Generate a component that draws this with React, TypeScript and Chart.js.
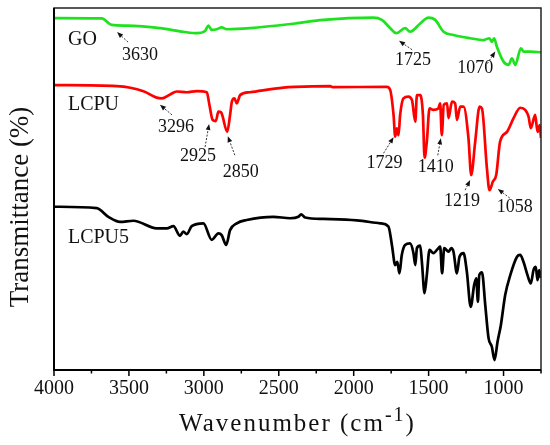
import { useEffect, useRef } from "react";
import Chart from "chart.js/auto";

// FTIR spectra, wavenumber in cm-1 (descending) and offset transmittance (arbitrary %)
const goWavenumber = [4000, 3681, 3615, 3515, 3293, 3137, 3047, 2992, 2970, 2947, 2914, 2881, 2846, 2692, 2391, 2202, 1868, 1812, 1756, 1716, 1657, 1624, 1556, 1501, 1456, 1400, 1334, 1223, 1133, 1094, 1078, 1063, 1045, 1000, 966, 944, 922, 884, 867, 822, 750];
const goSignal = [97.2, 97.1, 95.3, 95.1, 94.4, 93.4, 93.0, 93.6, 95.1, 93.9, 94.1, 94.6, 94.1, 94.4, 95.7, 96.7, 97.3, 96.7, 94.4, 93.0, 94.4, 93.4, 95.7, 97.3, 96.7, 93.4, 92.5, 91.6, 91.1, 91.6, 90.6, 91.6, 89.3, 85.1, 84.2, 86.0, 84.2, 88.8, 87.9, 87.9, 87.7];

const lcpuWavenumber = [4000, 3581, 3403, 3315, 3281, 3225, 3181, 3114, 3047, 2980, 2963, 2941, 2920, 2903, 2885, 2844, 2825, 2813, 2796, 2780, 2758, 2692, 2469, 2391, 2157, 2141, 1779, 1756, 1734, 1723, 1712, 1701, 1690, 1668, 1635, 1611, 1589, 1578, 1556, 1538, 1527, 1512, 1494, 1468, 1435, 1423, 1412, 1399, 1377, 1367, 1344, 1323, 1311, 1289, 1267, 1234, 1216, 1189, 1160, 1144, 1111, 1094, 1071, 1049, 1023, 977, 933, 889, 855, 833, 818, 789, 773, 759, 750];
const lcpuSignal = [78.6, 78.3, 76.9, 75.1, 74.9, 76.0, 76.8, 76.6, 76.9, 76.6, 73.1, 68.9, 68.6, 71.2, 71.0, 65.6, 70.3, 74.0, 74.9, 73.5, 75.8, 76.6, 77.9, 78.1, 78.3, 78.0, 78.1, 77.2, 70.3, 64.3, 66.6, 64.7, 70.3, 74.9, 75.4, 74.4, 68.4, 75.8, 75.8, 70.3, 58.4, 62.9, 72.1, 71.7, 72.1, 73.5, 64.7, 73.1, 73.5, 69.4, 74.0, 73.5, 68.9, 72.6, 72.6, 63.8, 53.6, 62.9, 72.6, 72.1, 55.5, 49.4, 51.8, 53.6, 62.9, 65.6, 69.4, 72.3, 71.7, 69.8, 66.6, 70.3, 65.6, 67.5, 63.9];

const lcpu5Wavenumber = [4000, 3715, 3637, 3559, 3470, 3315, 3247, 3203, 3159, 3137, 3114, 3081, 3003, 2947, 2903, 2881, 2851, 2825, 2780, 2714, 2536, 2424, 2369, 2351, 2324, 2202, 1979, 1824, 1768, 1745, 1723, 1709, 1695, 1679, 1657, 1624, 1601, 1589, 1578, 1556, 1545, 1527, 1512, 1494, 1468, 1435, 1423, 1410, 1396, 1367, 1349, 1334, 1311, 1294, 1267, 1245, 1219, 1196, 1182, 1171, 1162, 1144, 1122, 1100, 1078, 1060, 1040, 1018, 989, 955, 910, 889, 867, 840, 818, 800, 785, 773, 762, 750];
const lcpu5Signal = [44.8, 44.4, 42.0, 40.6, 40.9, 38.8, 38.8, 39.4, 36.7, 37.9, 37.2, 39.4, 40.2, 35.6, 37.4, 36.9, 34.2, 38.3, 40.2, 41.1, 42.0, 41.6, 42.0, 42.7, 41.8, 41.4, 41.0, 40.2, 39.3, 34.2, 28.6, 29.5, 26.3, 31.4, 34.2, 34.6, 31.9, 28.6, 33.3, 34.0, 29.5, 20.8, 25.8, 32.8, 31.9, 33.3, 33.7, 26.3, 33.3, 32.3, 33.3, 32.3, 26.3, 30.9, 31.9, 26.8, 17.0, 23.1, 24.9, 18.4, 25.8, 26.6, 17.5, 8.3, 5.9, 2.2, 7.3, 11.9, 20.3, 25.8, 30.9, 31.4, 29.5, 25.8, 23.5, 27.2, 28.1, 24.4, 27.2, 25.0];

const seriesNames = ["GO", "LCPU", "LCPU5"];

// marked bands: label text, and where its arrow points (wavenumber, signal)
const peakLabels = ["3630", "3296", "2925", "2850", "1725", "1070", "1729", "1410", "1219", "1058"];
const peakWavenumber = [3579, 3293, 2965, 2840, 1697, 1055, 1734, 1419, 1223, 1038];
const peakSignal = [93.3, 73.1, 67.8, 64.4, 90.9, 87.9, 64.1, 63.8, 52.2, 49.7];

const SERIF = '"Liberation Serif", "Times New Roman", serif';
const GREEN = "rgb(30, 226, 30)";
const RED = "rgb(255, 0, 0)";
const BLACK = "rgb(0, 0, 0)";

// layout of the annotations, in px relative to the arrow tip
const arrowTail = [[11, 10], [12, 10], [-4, 23], [7, 19], [13, 9], [-8, 12], [-10, 16], [-3, 17], [-5, 10], [12, 9]];
const labelShift = [[23, 23], [16, 22], [-11, 32], [13, 36], [14, 20], [-20, 17], [-9, 26], [-5, 29], [-8, 21], [17, 18]];
const nameAt = { wn: 3907, signal: [91.1, 73.1, 36.1] };

const toPoints = (xs: number[], ys: number[]) => xs.map((x, i) => ({ x, y: ys[i] }));

const decorations = {
  id: "decorations",
  afterDraw(chart: any) {
    const { ctx, chartArea: a, scales } = chart;
    const sx = scales.x;
    const sy = scales.y;
    ctx.save();

    // tick marks, major every 500, minor every 250
    ctx.strokeStyle = "#000";
    ctx.lineWidth = 1.5;
    sx.ticks.forEach((t: any) => {
      const px = sx.getPixelForValue(t.value);
      const len = t.value % 500 === 0 ? 6 : 3.5;
      ctx.beginPath();
      ctx.moveTo(px, a.bottom);
      ctx.lineTo(px, a.bottom + len);
      ctx.stroke();
    });

    // frame
    ctx.strokeStyle = "#222";
    ctx.lineWidth = 1.5;
    ctx.strokeRect(a.left, a.top, a.right - a.left, a.bottom - a.top);
    ctx.strokeStyle = "#000";
    ctx.lineWidth = 2;
    ctx.beginPath();
    ctx.moveTo(a.left, a.top);
    ctx.lineTo(a.left, a.bottom);
    ctx.lineTo(a.right, a.bottom);
    ctx.stroke();

    // arrows + band labels
    ctx.fillStyle = "#111";
    peakLabels.forEach((label, i) => {
      const tx = sx.getPixelForValue(peakWavenumber[i]);
      const ty = sy.getPixelForValue(peakSignal[i]);
      const fx = tx + arrowTail[i][0];
      const fy = ty + arrowTail[i][1];
      const ang = Math.atan2(ty - fy, tx - fx);
      const head = 6;
      const bx = tx - head * Math.cos(ang);
      const by = ty - head * Math.sin(ang);
      ctx.setLineDash([2, 1.5]);
      ctx.lineWidth = 1;
      ctx.strokeStyle = "#333";
      ctx.beginPath();
      ctx.moveTo(fx, fy);
      ctx.lineTo(bx, by);
      ctx.stroke();
      ctx.setLineDash([]);
      ctx.beginPath();
      ctx.moveTo(tx, ty);
      ctx.lineTo(bx + 2.4 * Math.sin(ang), by - 2.4 * Math.cos(ang));
      ctx.lineTo(bx - 2.4 * Math.sin(ang), by + 2.4 * Math.cos(ang));
      ctx.closePath();
      ctx.fill();

      ctx.font = `18px ${SERIF}`;
      ctx.textAlign = "center";
      ctx.textBaseline = "middle";
      ctx.fillText(label, tx + labelShift[i][0], ty + labelShift[i][1]);
    });

    // sample names
    ctx.font = `20px ${SERIF}`;
    ctx.textAlign = "left";
    ctx.textBaseline = "middle";
    seriesNames.forEach((name, i) => {
      ctx.fillText(name, sx.getPixelForValue(nameAt.wn), sy.getPixelForValue(nameAt.signal[i]));
    });

    // y title
    ctx.save();
    ctx.translate(28, (a.top + a.bottom) / 2 + 18);
    ctx.rotate(-Math.PI / 2);
    ctx.font = `27px ${SERIF}`;
    ctx.textAlign = "center";
    ctx.textBaseline = "alphabetic";
    ctx.fillText("Transmittance (%)", 0, 0);
    ctx.restore();

    // x title with superscript
    const mainFont = `25px ${SERIF}`;
    const supFont = `20px ${SERIF}`;
    ctx.textAlign = "left";
    ctx.textBaseline = "alphabetic";
    ctx.letterSpacing = "2px";
    ctx.font = mainFont;
    const w1 = ctx.measureText("Wavenumber (cm").width;
    const w3 = ctx.measureText(")").width;
    ctx.font = supFont;
    const w2 = ctx.measureText("-1").width;
    const baseY = 431;
    let x0 = (a.left + a.right) / 2 - (w1 + w2 + w3) / 2;
    ctx.font = mainFont;
    ctx.fillText("Wavenumber (cm", x0, baseY);
    x0 += w1;
    ctx.font = supFont;
    ctx.fillText("-1", x0, baseY - 10);
    x0 += w2;
    ctx.font = mainFont;
    ctx.fillText(")", x0, baseY);

    ctx.restore();
  },
};

export default function App() {
  const canvasRef = useRef<HTMLCanvasElement | null>(null);
  const chartRef = useRef<Chart | null>(null);

  useEffect(() => {
    if (!canvasRef.current) return;
    if (chartRef.current) chartRef.current.destroy();

    const line = (label: string, xs: number[], ys: number[], color: string) => ({
      label,
      data: toPoints(xs, ys),
      borderColor: color,
      backgroundColor: color,
      borderWidth: 2.7,
      pointRadius: 0,
      cubicInterpolationMode: "monotone" as const,
    });

    chartRef.current = new Chart(canvasRef.current, {
      type: "line",
      data: {
        datasets: [
          line(seriesNames[0], goWavenumber, goSignal, GREEN),
          line(seriesNames[1], lcpuWavenumber, lcpuSignal, RED),
          line(seriesNames[2], lcpu5Wavenumber, lcpu5Signal, BLACK),
        ],
      },
      options: {
        animation: false,
        responsive: false,
        layout: { padding: { left: 54, right: 9, top: 8, bottom: 0 } },
        plugins: { legend: { display: false }, tooltip: { enabled: false } },
        scales: {
          x: {
            type: "linear",
            reverse: true,
            min: 750,
            max: 4000,
            afterFit: (s: any) => {
              s.height = 75;
            },
            grid: { display: false, drawTicks: true, tickLength: 5 },
            border: { display: false },
            ticks: {
              stepSize: 250,
              autoSkip: false,
              maxRotation: 0,
              padding: 2,
              color: "#111",
              font: { family: SERIF, size: 20 },
              callback: (v: any) => (Number(v) % 500 === 0 ? String(v) : ""),
            },
          },
          y: { display: false, min: -0.55, max: 100 },
        },
      },
      plugins: [decorations],
    });

    return () => {
      if (chartRef.current) {
        chartRef.current.destroy();
        chartRef.current = null;
      }
    };
  }, []);

  return (
    <div style={{ position: "absolute", left: 0, top: 0, width: 550, height: 445, background: "#fff" }}>
      <canvas ref={canvasRef} width={550} height={445} />
    </div>
  );
}
